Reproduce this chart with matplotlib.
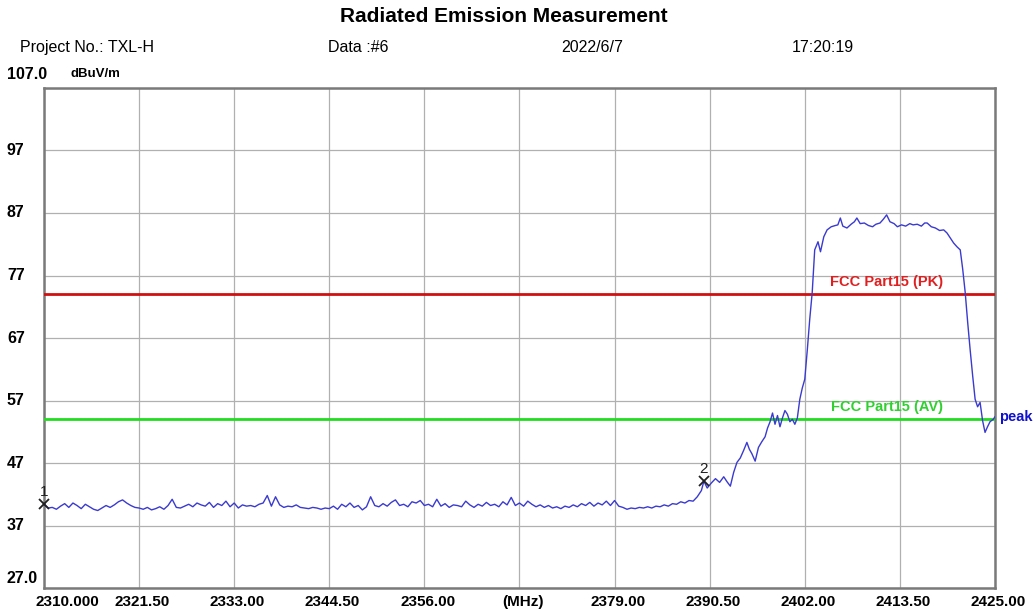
import numpy as np
import matplotlib
matplotlib.use("Agg")
import matplotlib.pyplot as plt

# sweep: noise floor sampled every 0.5 MHz from 2310 to 2388 MHz
noise_start = 2310.0
noise_step = 0.5
noise_level = [
    40.4, 39.8, 39.9, 39.6, 40.1, 40.5, 39.9, 40.6, 40.2, 39.7,
    40.4, 40.0, 39.6, 39.4, 39.8, 40.2, 39.9, 40.3, 40.8, 41.1,
    40.6, 40.2, 39.9, 39.8, 39.6, 39.9, 39.5, 39.7, 40.0, 39.6,
    40.2, 41.2, 39.9, 39.8, 40.1, 40.4, 40.0, 40.6, 40.3, 40.1,
    40.7, 39.9, 40.5, 40.2, 40.9, 40.0, 40.6, 39.8, 40.3, 40.1,
    40.2, 40.0, 40.4, 40.6, 41.8, 40.1, 41.6, 40.3, 39.9, 40.1,
    40.0, 40.3, 39.9, 39.8, 39.7, 39.9, 39.8, 39.6, 39.8, 39.7,
    40.1, 39.6, 40.4, 40.0, 40.6, 39.9, 40.2, 39.5, 40.0, 41.6,
    40.2, 40.0, 40.5, 40.1, 40.7, 41.1, 40.2, 40.4, 40.0, 40.8,
    40.6, 41.0, 40.2, 40.4, 40.0, 41.2, 40.1, 40.5, 39.9, 40.3,
    40.2, 40.0, 40.9, 40.3, 39.9, 40.4, 40.1, 40.7, 40.2, 40.4,
    40.0, 40.8, 40.3, 41.5, 40.2, 40.6, 40.1, 40.9, 40.4, 40.0,
    40.3, 39.9, 40.2, 39.8, 40.0, 39.7, 40.1, 39.9, 40.3, 40.0,
    40.5, 40.2, 40.7, 40.1, 40.6, 40.3, 40.9, 40.2, 41.0, 40.1,
    39.9, 39.6, 39.8, 39.7, 39.9, 39.8, 40.0, 39.8, 40.1, 40.0,
    40.3, 40.1, 40.5, 40.4, 40.8, 40.6, 41.0,
]

# band edge and carrier
band_freq = [
    2388.5, 2389.0, 2389.5, 2389.8, 2390.2, 2390.7, 2391.2, 2391.7, 2392.2, 2392.6,
    2393.0, 2393.4, 2393.8, 2394.2, 2394.6, 2395.0, 2395.3, 2395.6, 2396.0, 2396.4,
    2396.8, 2397.2, 2397.5, 2397.8, 2398.1, 2398.4, 2398.7, 2399.0, 2399.3, 2399.6,
    2399.9, 2400.2, 2400.5, 2400.8, 2401.1, 2401.4, 2401.7, 2402.0, 2402.3, 2402.6,
    2402.9, 2403.2, 2403.6, 2403.9, 2404.3, 2404.7, 2405.2, 2405.7, 2406.0, 2406.3,
    2406.6, 2407.1, 2407.6, 2408.0, 2408.3, 2408.7, 2409.2, 2409.7, 2410.2, 2410.6,
    2411.1, 2411.5, 2411.9, 2412.3, 2412.8, 2413.2, 2413.7, 2414.2, 2414.7, 2415.1,
    2415.6, 2416.1, 2416.5, 2416.8, 2417.3, 2417.8, 2418.3, 2418.8, 2419.2, 2419.6,
    2420.0, 2420.4, 2420.8, 2421.1, 2421.4, 2421.7, 2422.0, 2422.3, 2422.6, 2422.9,
    2423.2, 2423.5, 2423.8, 2424.1, 2424.4, 2424.8, 2425.0,
]
band_level = [
    40.9, 41.6, 42.6, 44.1, 43.0, 43.8, 44.5, 43.9, 44.8, 44.0,
    43.3, 45.5, 47.1, 47.8, 49.0, 50.3, 49.2, 48.5, 47.3, 49.5,
    50.4, 51.2, 52.6, 53.6, 55.0, 53.2, 54.6, 52.8, 54.2, 55.4,
    54.8, 53.6, 54.0, 53.2, 54.2, 57.2, 59.0, 60.4, 65.0, 70.0,
    74.3, 81.1, 82.4, 80.8, 83.2, 84.3, 84.8, 85.0, 85.1, 86.2,
    84.9, 84.6, 85.2, 85.6, 86.2, 85.3, 85.4, 85.0, 84.8, 85.2,
    85.4, 86.0, 86.7, 85.6, 85.3, 84.8, 85.1, 84.9, 85.3, 85.1,
    85.2, 84.9, 85.4, 85.4, 84.8, 84.6, 84.2, 84.3, 83.8, 83.0,
    82.2, 81.6, 81.1, 78.0, 74.3, 69.5, 65.1, 61.0, 57.2, 56.0,
    56.7, 53.8, 51.9, 52.8, 53.6, 54.0, 54.4,
]

limit_pk = 74.0
limit_av = 54.0

markers_freq = [2310.0, 2389.8]
markers_level = [40.4, 44.1]
markers_label = ["1", "2"]

x_ticks = [2310.0, 2321.5, 2333.0, 2344.5, 2356.0, 2367.5, 2379.0, 2390.5, 2402.0, 2413.5, 2425.0]
x_tick_labels = ["2310.000", "2321.50", "2333.00", "2344.50", "2356.00", "(MHz)",
                 "2379.00", "2390.50", "2402.00", "2413.50", "2425.00"]
y_ticks = [27, 37, 47, 57, 67, 77, 87, 97, 107]
y_tick_labels = ["27.0", "37", "47", "57", "67", "77", "87", "97", "107.0"]

noise_freq = noise_start + noise_step * np.arange(len(noise_level))
freq = np.concatenate([noise_freq, band_freq])
level = np.concatenate([noise_level, band_level])

plt.rcParams["font.family"] = ["Liberation Sans", "DejaVu Sans"]

fig = plt.figure(figsize=(10.34, 6.14), dpi=100)
ax = fig.add_axes([0.04255, 0.0423, 0.9197, 0.8144])
ax.set_xlim(2310, 2425)
ax.set_ylim(27, 107)

ax.set_xticks(x_ticks)
ax.set_yticks(y_ticks)
ax.set_xticklabels([])
ax.set_yticklabels([])
ax.tick_params(length=0)
ax.grid(True, color="#b0b0b0", lw=0.9)
for s in ax.spines.values():
    s.set_color("#7a7a7a")
    s.set_linewidth(1.8)

ax.plot(freq, level, color="#3a3ad0", lw=1.0, zorder=4)
ax.axhline(limit_pk, color="#d01010", lw=2, zorder=3)
ax.axhline(limit_av, color="#20dd20", lw=2, zorder=3)

ax.text(2411.9, limit_pk + 0.8, "FCC Part15 (PK)", color="#e02020", fontsize=10.5,
        fontweight="bold", ha="center", va="bottom")
ax.text(2411.9, limit_av + 0.8, "FCC Part15 (AV)", color="#30d030", fontsize=10.5,
        fontweight="bold", ha="center", va="bottom")
ax.text(2425.5, level[-1], "peak", color="#1010d0", fontsize=10.5, fontweight="bold",
        ha="left", va="center", clip_on=False)

ax.plot(markers_freq, markers_level, "x", color="#202020", ms=7, mew=1.3,
        zorder=5, clip_on=False)
for f, l, t in zip(markers_freq, markers_level, markers_label):
    ax.text(f, l + 0.8, t, color="#202020", fontsize=11, ha="center", va="bottom")

# tick labels
yt = ax.get_yaxis_transform()
for v, t in zip(y_ticks, y_tick_labels):
    off = 0
    if v == 107:
        off = 2.2
    elif v == 27:
        off = 1.6
    ax.text(-0.039, v + off, t, transform=yt, fontsize=11.5, fontweight="bold",
            ha="left", va="center")
ax.text(0.028, 109.2, "dBuV/m", transform=yt, fontsize=9.5, fontweight="bold",
        ha="left", va="center")

xt = ax.get_xaxis_transform()
for v, t in zip(x_ticks, x_tick_labels):
    xv = v + 0.4
    if v == 2310.0:
        xv = 2312.8
    ax.text(xv, -0.027, t, transform=xt, fontsize=11, fontweight="bold",
            ha="center", va="center")

fig.text(0.487, 0.973, "Radiated Emission Measurement", fontsize=15,
         fontweight="bold", ha="center", va="center")
fig.text(0.019, 0.922, "Project No.: TXL-H", fontsize=11.5, ha="left", va="center")
fig.text(0.317, 0.922, "Data :#6", fontsize=11.5, ha="left", va="center")
fig.text(0.543, 0.922, "2022/6/7", fontsize=11.5, ha="left", va="center")
fig.text(0.766, 0.922, "17:20:19", fontsize=11.5, ha="left", va="center")

fig.savefig("out.png", dpi=100)
